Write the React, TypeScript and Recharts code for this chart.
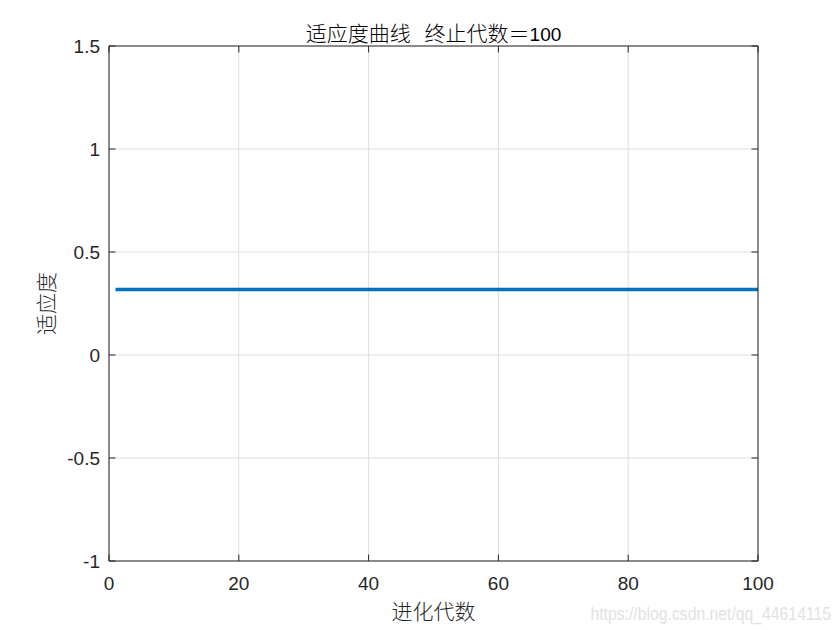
import React from 'react';
import { LineChart, Line, XAxis, YAxis, CartesianGrid, Label } from 'recharts';

// ---- data ----
const generations: number[] = [
  1, 2, 3, 4, 5, 6, 7, 8, 9, 10, 11, 12, 13, 14, 15, 16, 17, 18, 19, 20,
  21, 22, 23, 24, 25, 26, 27, 28, 29, 30, 31, 32, 33, 34, 35, 36, 37, 38, 39, 40,
  41, 42, 43, 44, 45, 46, 47, 48, 49, 50, 51, 52, 53, 54, 55, 56, 57, 58, 59, 60,
  61, 62, 63, 64, 65, 66, 67, 68, 69, 70, 71, 72, 73, 74, 75, 76, 77, 78, 79, 80,
  81, 82, 83, 84, 85, 86, 87, 88, 89, 90, 91, 92, 93, 94, 95, 96, 97, 98, 99, 100,
];
const fitness: number[] = [
  0.318, 0.318, 0.318, 0.318, 0.318, 0.318, 0.318, 0.318, 0.318, 0.318,
  0.318, 0.318, 0.318, 0.318, 0.318, 0.318, 0.318, 0.318, 0.318, 0.318,
  0.318, 0.318, 0.318, 0.318, 0.318, 0.318, 0.318, 0.318, 0.318, 0.318,
  0.318, 0.318, 0.318, 0.318, 0.318, 0.318, 0.318, 0.318, 0.318, 0.318,
  0.318, 0.318, 0.318, 0.318, 0.318, 0.318, 0.318, 0.318, 0.318, 0.318,
  0.318, 0.318, 0.318, 0.318, 0.318, 0.318, 0.318, 0.318, 0.318, 0.318,
  0.318, 0.318, 0.318, 0.318, 0.318, 0.318, 0.318, 0.318, 0.318, 0.318,
  0.318, 0.318, 0.318, 0.318, 0.318, 0.318, 0.318, 0.318, 0.318, 0.318,
  0.318, 0.318, 0.318, 0.318, 0.318, 0.318, 0.318, 0.318, 0.318, 0.318,
  0.318, 0.318, 0.318, 0.318, 0.318, 0.318, 0.318, 0.318, 0.318, 0.318,
];
const xTicks: number[] = [0, 20, 40, 60, 80, 100];
const yTicks: number[] = [-1, -0.5, 0, 0.5, 1, 1.5];
const titleCjk = '适应度曲线\u00A0\u00A0\u00A0终止代数＝';
const titleNum = '100';
const xLabelText = '进化代数';
const yLabelText = '适应度';
const watermarkText = 'https://blog.csdn.net/qq_44614115';

const data = generations.map((g, i) => ({ gen: g, fit: fitness[i] }));

const AXIS = '#262626';
const GRID = '#dfdfdf';
const NUM_FONT = '"Liberation Sans", Arial, Helvetica, sans-serif';
const CJK_FONT = '"Noto Sans CJK SC", "Noto Sans", sans-serif';
const CJK_SIZE = 21;
const TICK_LEN = 6.5;
// tickSize (6) + tickMargin (2): distance recharts puts between axis line and tick anchor
const OFF = 8;

const BottomTick = (props: any) => {
  const { x, y, payload } = props;
  const ay = y - OFF;
  return (
    <g>
      <line x1={x} y1={ay} x2={x} y2={ay - TICK_LEN} stroke={AXIS} strokeWidth={1} />
      <text x={x} y={ay + 29} textAnchor="middle" fill={AXIS} fontSize={19} fontFamily={NUM_FONT}>
        {payload.value}
      </text>
    </g>
  );
};
const TopTick = (props: any) => {
  const { x, y } = props;
  const ay = y + OFF;
  return <line x1={x} y1={ay} x2={x} y2={ay + TICK_LEN} stroke={AXIS} strokeWidth={1} />;
};
const LeftTick = (props: any) => {
  const { x, y, payload } = props;
  const ax = x + OFF;
  return (
    <g>
      <line x1={ax} y1={y} x2={ax + TICK_LEN} y2={y} stroke={AXIS} strokeWidth={1} />
      <text x={ax - 9} y={y + 7} textAnchor="end" fill={AXIS} fontSize={19} fontFamily={NUM_FONT}>
        {payload.value}
      </text>
    </g>
  );
};
const RightTick = (props: any) => {
  const { x, y } = props;
  const ax = x - OFF;
  return <line x1={ax} y1={y} x2={ax - TICK_LEN} y2={y} stroke={AXIS} strokeWidth={1} />;
};

const XLabel = (props: any) => {
  const vb = props.viewBox || {};
  const cx = vb.x + vb.width / 2;
  return (
    <g>
      <text x={cx} y={vb.y + 58} textAnchor="middle" fill={AXIS} fontSize={CJK_SIZE} fontFamily={CJK_FONT} fontWeight={300}>
        {xLabelText}
      </text>
      <text
        transform="translate(831, 620) scale(0.83, 1)"
        x={0}
        y={0}
        textAnchor="end"
        fill="#e2e2e2"
        fontSize={19}
        fontFamily={NUM_FONT}
      >
        {watermarkText}
      </text>
    </g>
  );
};
const YLabel = (props: any) => {
  const vb = props.viewBox || {};
  const cy = vb.y + vb.height / 2;
  const cx = 47;
  return (
    <text
      x={cx}
      y={cy}
      dy={7}
      textAnchor="middle"
      transform={`rotate(-90, ${cx}, ${cy})`}
      fill={AXIS}
      fontSize={CJK_SIZE}
      fontFamily={CJK_FONT}
      fontWeight={300}
    >
      {yLabelText}
    </text>
  );
};
const Title = (props: any) => {
  const vb = props.viewBox || {};
  const cx = vb.x + vb.width / 2;
  const axisY = vb.y + vb.height;
  return (
    <text x={cx} y={axisY - 5} textAnchor="middle" fill="#000" fontSize={CJK_SIZE} fontFamily={CJK_FONT} fontWeight={300}>
      <tspan>{titleCjk}</tspan>
      <tspan fontFamily={NUM_FONT} fontSize={19} fontWeight={400}>{titleNum}</tspan>
    </text>
  );
};

export default function App() {
  return (
    <div style={{ position: 'absolute', left: 0, top: 0, width: 840, height: 630, background: '#fff' }}>
      <LineChart width={840} height={630} data={data} margin={{ top: 45, right: 81, bottom: 0, left: 0 }}>
        <CartesianGrid xAxisId="bottom" yAxisId="left" stroke={GRID} strokeWidth={1} />
        <XAxis
          xAxisId="bottom"
          dataKey="gen"
          type="number"
          domain={[0, 100]}
          ticks={xTicks}
          height={69}
          axisLine={{ stroke: AXIS, strokeWidth: 1 }}
          tickLine={false}
          tickSize={6}
          tickMargin={2}
          tick={BottomTick}
          interval={0}
          allowDataOverflow
        >
          <Label content={XLabel} />
        </XAxis>
        <XAxis
          xAxisId="top"
          orientation="top"
          dataKey="gen"
          type="number"
          domain={[0, 100]}
          ticks={xTicks}
          height={1}
          axisLine={{ stroke: AXIS, strokeWidth: 1 }}
          tickLine={false}
          tickSize={6}
          tickMargin={2}
          tick={TopTick}
          interval={0}
          allowDataOverflow
        >
          <Label content={Title} />
        </XAxis>
        <YAxis
          yAxisId="left"
          type="number"
          domain={[-1, 1.5]}
          ticks={yTicks}
          width={109}
          axisLine={{ stroke: AXIS, strokeWidth: 1 }}
          tickLine={false}
          tickSize={6}
          tickMargin={2}
          tick={LeftTick}
          interval={0}
          allowDataOverflow
        >
          <Label content={YLabel} />
        </YAxis>
        <YAxis
          yAxisId="right"
          orientation="right"
          type="number"
          domain={[-1, 1.5]}
          ticks={yTicks}
          width={1}
          axisLine={{ stroke: AXIS, strokeWidth: 1 }}
          tickLine={false}
          tickSize={6}
          tickMargin={2}
          tick={RightTick}
          interval={0}
          allowDataOverflow
        />
        <Line
          xAxisId="bottom"
          yAxisId="left"
          dataKey="fit"
          type="linear"
          stroke="#0072BD"
          strokeWidth={3.7}
          dot={false}
          activeDot={false}
          isAnimationActive={false}
        />
      </LineChart>
    </div>
  );
}
